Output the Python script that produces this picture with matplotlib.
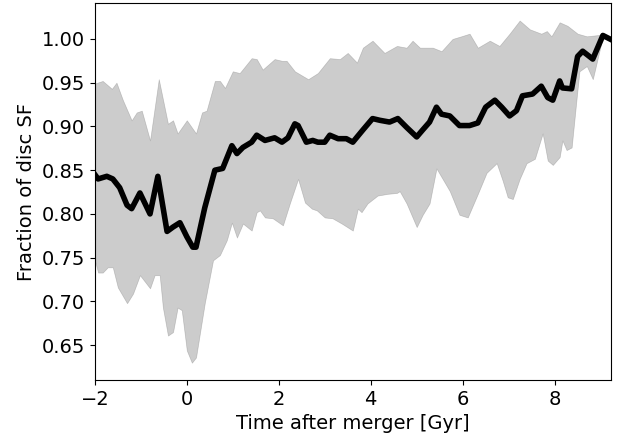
import matplotlib
matplotlib.use('Agg')
import matplotlib.pyplot as plt
import numpy as np

# median fraction of disc star formation vs time after merger
t_med = [-2.0, -1.93, -1.74, -1.61, -1.46, -1.3, -1.2, -1.02, -0.8, -0.63, -0.43, -0.3,
         -0.15, 0.0, 0.13, 0.2, 0.39, 0.61, 0.78, 0.98, 1.09, 1.22, 1.41, 1.52, 1.7,
         1.91, 2.07, 2.2, 2.35, 2.42, 2.6, 2.74, 2.85, 3.0, 3.11, 3.29, 3.47, 3.61,
         3.83, 4.04, 4.2, 4.41, 4.59, 4.78, 5.0, 5.13, 5.28, 5.43, 5.54, 5.72, 5.93,
         6.15, 6.33, 6.5, 6.7, 6.85, 7.02, 7.17, 7.3, 7.52, 7.71, 7.85, 7.96, 8.11,
         8.17, 8.37, 8.5, 8.61, 8.83, 9.05, 9.2]
f_med = [0.845, 0.84, 0.843, 0.84, 0.83, 0.81, 0.806, 0.824, 0.80, 0.843, 0.78, 0.785,
         0.79, 0.774, 0.762, 0.762, 0.807, 0.85, 0.852, 0.878, 0.869, 0.876, 0.882, 0.89, 0.884,
         0.887, 0.882, 0.887, 0.903, 0.901, 0.882, 0.884, 0.882, 0.882, 0.89, 0.886, 0.886, 0.882,
         0.896, 0.909, 0.907, 0.905, 0.909, 0.899, 0.888, 0.896, 0.905, 0.922, 0.914, 0.912, 0.901,
         0.901, 0.904, 0.922, 0.93, 0.922, 0.912, 0.918, 0.935, 0.937, 0.946, 0.933, 0.93, 0.952,
         0.944, 0.943, 0.98, 0.986, 0.977, 1.004, 1.0]

# upper edge of the scatter band
t_hi = [-2.0, -1.83, -1.63, -1.53, -1.39, -1.2, -1.09, -0.98, -0.8, -0.61, -0.41, -0.3,
        -0.2, 0.0, 0.2, 0.33, 0.43, 0.61, 0.72, 0.83, 1.0, 1.15, 1.41, 1.52, 1.65, 1.91,
        2.07, 2.17, 2.35, 2.64, 2.85, 3.11, 3.33, 3.5, 3.7, 3.83, 4.04, 4.3, 4.57, 4.78,
        4.91, 5.07, 5.35, 5.54, 5.78, 5.97, 6.15, 6.33, 6.59, 6.8, 7.02, 7.24, 7.46, 7.71,
        7.83, 7.93, 8.11, 8.28, 8.5, 8.7, 9.05]
f_hi = [0.949, 0.952, 0.943, 0.95, 0.93, 0.907, 0.916, 0.918, 0.884, 0.954, 0.903, 0.907,
        0.892, 0.907, 0.892, 0.916, 0.918, 0.952, 0.952, 0.944, 0.963, 0.961, 0.978, 0.977, 0.965, 0.977,
        0.975, 0.975, 0.963, 0.954, 0.961, 0.978, 0.977, 0.984, 0.973, 0.99, 0.998, 0.984, 0.992, 0.99,
        0.998, 0.99, 0.99, 0.986, 1.0, 1.003, 1.006, 0.99, 0.998, 0.992, 1.006, 1.021, 1.011, 1.006,
        1.009, 1.003, 1.019, 1.015, 1.006, 1.003, 1.005]

# lower edge of the scatter band
t_lo = [-2.0, -1.93, -1.83, -1.72, -1.61, -1.5, -1.3, -1.17, -1.02, -0.8, -0.7, -0.59,
        -0.52, -0.41, -0.3, -0.2, -0.11, 0.0, 0.11, 0.2, 0.39, 0.57, 0.72, 0.87, 0.98, 1.09,
        1.22, 1.41, 1.52, 1.59, 1.7, 1.87, 2.09, 2.24, 2.42, 2.57, 2.72, 2.83, 3.0, 3.17,
        3.37, 3.61, 3.72, 3.8, 3.93, 4.15, 4.37, 4.57, 4.63, 4.78, 5.0, 5.13, 5.28, 5.43,
        5.72, 5.93, 6.11, 6.33, 6.52, 6.74, 6.87, 6.98, 7.09, 7.24, 7.39, 7.57, 7.74, 7.85,
        7.96, 8.11, 8.17, 8.26, 8.37, 8.48, 8.54, 8.7, 8.83, 9.05]
f_lo = [0.747, 0.733, 0.733, 0.739, 0.739, 0.716, 0.698, 0.709, 0.73, 0.715, 0.73, 0.73,
        0.693, 0.661, 0.665, 0.693, 0.69, 0.644, 0.63, 0.636, 0.698, 0.747, 0.753, 0.77, 0.79, 0.773,
        0.789, 0.781, 0.802, 0.804, 0.796, 0.795, 0.787, 0.812, 0.84, 0.813, 0.806, 0.804, 0.796, 0.795,
        0.789, 0.781, 0.806, 0.802, 0.812, 0.821, 0.823, 0.824, 0.826, 0.812, 0.785, 0.799, 0.812, 0.852,
        0.826, 0.799, 0.796, 0.823, 0.847, 0.858, 0.838, 0.819, 0.817, 0.84, 0.858, 0.863, 0.892, 0.861,
        0.856, 0.865, 0.884, 0.873, 0.876, 0.933, 0.963, 0.969, 0.954, 1.003]

# put band edges on one common grid so fill_between can use them
t_band = np.union1d(t_hi, t_lo)
band_hi = np.interp(t_band, t_hi, f_hi)
band_lo = np.interp(t_band, t_lo, f_lo)

plt.rcParams['font.size'] = 14

fig = plt.figure(figsize=(6.2, 4.37), dpi=100)
ax = fig.add_axes([0.153, 0.130, 0.832, 0.863])

ax.fill_between(t_band, band_lo, band_hi, color='grey', alpha=0.4, linewidth=0.5)
ax.plot(t_med, f_med, color='k', linewidth=4)

ax.set_xlim(-2, 9.22)
ax.set_ylim(0.61, 1.041)
ax.set_xlabel('Time after merger [Gyr]')
ax.set_ylabel('Fraction of disc SF')

fig.savefig('out.png', dpi=100)
